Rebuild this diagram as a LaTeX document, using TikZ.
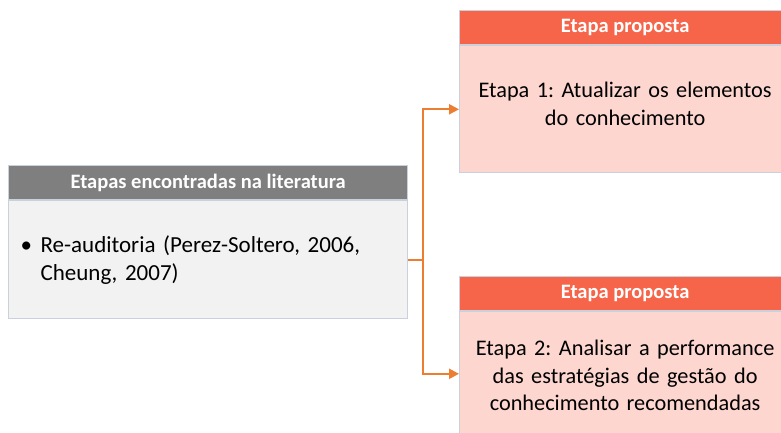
\documentclass[tikz,border=0pt]{standalone}
\usepackage{fontspec}
\setmainfont{Carlito}
\usepackage{xcolor}
\usetikzlibrary{arrows.meta, positioning}
\definecolor{headgray}{HTML}{7F7F7F}
\definecolor{bodygray}{HTML}{F2F2F2}
\definecolor{headred}{HTML}{F6654A}
\definecolor{bodyred}{HTML}{FDD6D0}
\definecolor{linkorange}{HTML}{ED7D31}
\definecolor{boxedge}{HTML}{C9D1DC}
\frenchspacing

\begin{document}
\begin{tikzpicture}[x=1pt, y=-1pt,
    head/.style={draw=boxedge, line width=1.2pt, fill=#1, text=white, font=\fontsize{20.5}{24}\selectfont\bfseries, minimum height=34pt, inner sep=0pt, anchor=north west},
    body/.style={draw=boxedge, line width=1.2pt, fill=#1, font=\fontsize{22.3}{27.5}\selectfont, inner sep=0pt, text height=16pt},
    link/.style={draw=linkorange, line width=2.2pt},
]
    \useasboundingbox (0,0) rectangle (781,433);
    \clip (0,0) rectangle (781,433);

    % literature box
    \node[head=headgray, minimum width=399pt] (lithead) at (8,165) {Etapas encontradas na literatura};
    \node[body=bodygray, font=\fontsize{23}{28}\selectfont, minimum width=399pt, minimum height=118pt, text width=375pt, text depth=30pt, align=left, below=0pt of lithead] (litbody)
        {\begin{tabular}[t]{@{}l@{}l@{}}\makebox[20pt][l]{\textbullet} & Re-auditoria (Perez-Soltero, 2006,\\ & Cheung, 2007)\end{tabular}};

    % proposed steps
    \node[head=headred, minimum width=331pt] (prophead1) at (459,10) {Etapa proposta};
    \node[body=bodyred, minimum width=331pt, minimum height=127pt, text width=315pt, text depth=39pt, align=center, below=0pt of prophead1] (propbody1)
        {Etapa 1: Atualizar os elementos\\ do conhecimento};
    \node[head=headred, minimum width=331pt] (prophead2) at (459,276) {Etapa proposta};
    \node[body=bodyred, minimum width=331pt, minimum height=124pt, text width=315pt, text depth=52pt, align=center, below=0pt of prophead2] (propbody2)
        {Etapa 2: Analisar a performance\\ das estratégias de gestão do\\ conhecimento recomendadas};

    % connector
    \coordinate[right=15pt of litbody] (hub);
    \draw[link] (litbody.east) -- (hub);
    \draw[link, -{Triangle[length=10pt, width=10pt]}] (hub) |- (propbody1.west);
    \draw[link, -{Triangle[length=10pt, width=10pt]}] (hub) |- (propbody2.west);
\end{tikzpicture}
\end{document}
